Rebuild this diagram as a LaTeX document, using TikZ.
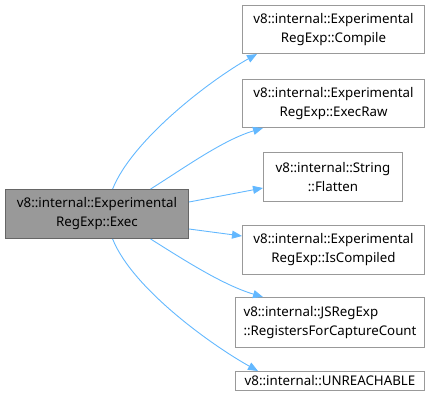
\documentclass[tikz,border=0pt]{standalone}
\usepackage{fontspec}
\setmainfont{Noto Sans}
\usetikzlibrary{arrows.meta}
\definecolor{edgeblue}{HTML}{63B8FF}
\definecolor{mainfill}{HTML}{999999}
\definecolor{mainborder}{HTML}{666666}
\definecolor{boxborder}{HTML}{999999}
\begin{document}
\begin{tikzpicture}[x=1pt,y=-1pt,
  box/.style={draw=boxborder, fill=white, line width=1pt, inner sep=0pt, align=center,
    font=\fontsize{13.3}{19}\selectfont, anchor=north west},
  mainbox/.style={box, fill=mainfill, draw=mainborder},
  edge/.style={draw=edgeblue, line width=0.9pt, -{Triangle[length=10pt,width=8pt]}}]
\useasboundingbox (0,0) rectangle (435,406);
\node[mainbox, minimum width=183pt, minimum height=49pt] (main) at (5,189) {v8::internal::Experimental\\RegExp::Exec};
\node[box, minimum width=182pt, minimum height=48pt] (compile) at (242,5) {v8::internal::Experimental\\RegExp::Compile};
\node[box, minimum width=182pt, minimum height=48pt] (execraw) at (242,79) {v8::internal::Experimental\\RegExp::ExecRaw};
\node[box, minimum width=139pt, minimum height=49pt] (flatten) at (263,152) {v8::internal::String\\::Flatten};
\node[box, minimum width=182pt, minimum height=49pt] (iscompiled) at (242,225) {v8::internal::Experimental\\RegExp::IsCompiled};
\node[box, minimum width=189pt, minimum height=50pt, align=left] (registers) at (235,297) {v8::internal::JSRegExp\\::RegistersForCaptureCount};
\node[box, minimum width=189pt, minimum height=19pt] (unreach) at (235,371) {v8::internal::UNREACHABLE};
\path[edge] (main.58) .. controls +(20,-50) and +(-45,25) .. ([xshift=15pt]compile.south west);
\path[edge] (main.25) .. controls +(35,-22) and +(-40,12) .. ([xshift=21pt]execraw.south west);
\path[edge] (main.east |- 0,202) -- (flatten.west |- 0,188);
\path[edge] (main.east |- 0,229) -- (iscompiled.west |- 0,236);
\path[edge] (main.-25) .. controls +(35,22) and +(-40,-12) .. ([xshift=28pt]registers.north west);
\path[edge] (main.-58) .. controls +(20,50) and +(-45,-25) .. ([xshift=23pt]unreach.north west);
\end{tikzpicture}
\end{document}
